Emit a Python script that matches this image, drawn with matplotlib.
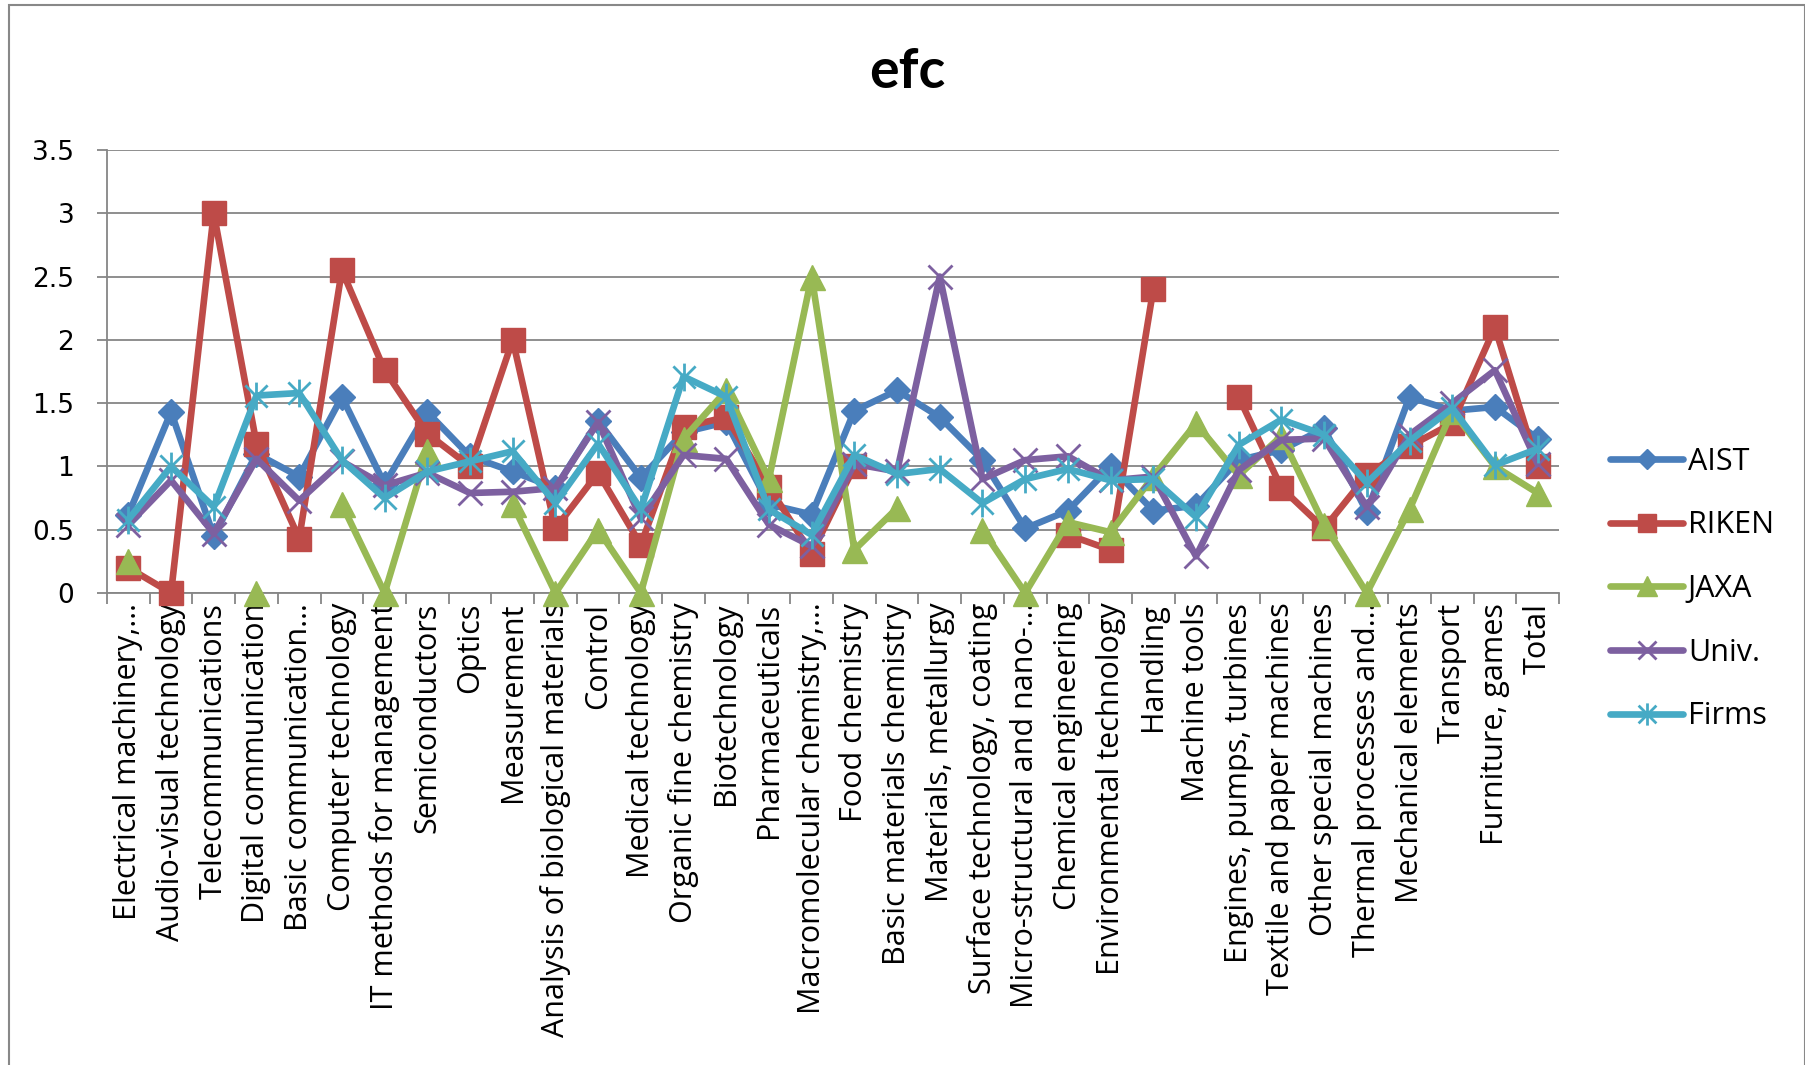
import numpy as np
import matplotlib
matplotlib.use("Agg")
import matplotlib.pyplot as plt
from matplotlib.path import Path
from matplotlib.patches import Rectangle

nan = np.nan

categories = [
    "Electrical machinery,…", "Audio-visual technology", "Telecommunications",
    "Digital communication", "Basic communication…", "Computer technology",
    "IT methods for management", "Semiconductors", "Optics", "Measurement",
    "Analysis of biological materials", "Control", "Medical technology",
    "Organic fine chemistry", "Biotechnology", "Pharmaceuticals",
    "Macromolecular chemistry,…", "Food chemistry", "Basic materials chemistry",
    "Materials, metallurgy", "Surface technology, coating",
    "Micro-structural and nano-…", "Chemical engineering",
    "Environmental technology", "Handling", "Machine tools",
    "Engines, pumps, turbines", "Textile and paper machines",
    "Other special machines", "Thermal processes and…", "Mechanical elements",
    "Transport", "Furniture, games", "Total",
]

aist = [0.62, 1.43, 0.45, 1.10, 0.92, 1.55, 0.86, 1.43, 1.08, 0.96, 0.83, 1.36,
        0.91, 1.27, 1.35, 0.70, 0.62, 1.44, 1.60, 1.39, 1.05, 0.51, 0.65, 1.00,
        0.65, 0.69, 1.05, 1.13, 1.30, 0.64, 1.55, 1.44, 1.47, 1.22]
riken = [0.20, 0.00, 3.00, 1.18, 0.43, 2.55, 1.76, 1.26, 1.00, 2.00, 0.51, 0.95,
         0.38, 1.31, 1.39, 0.84, 0.31, 1.00, nan, nan, nan, nan, 0.46, 0.34,
         2.40, nan, 1.55, 0.83, 0.51, 0.93, 1.16, 1.34, 2.10, 1.00]
jaxa = [0.25, nan, nan, 0.00, nan, 0.70, 0.00, 1.12, nan, 0.70, 0.00, 0.50,
        0.00, 1.22, 1.60, 0.90, 2.50, 0.34, 0.67, nan, 0.50, 0.00, 0.56, 0.48,
        0.92, 1.34, 0.93, 1.24, 0.54, 0.00, 0.66, 1.44, 1.00, 0.79]
univ = [0.54, 0.89, 0.47, 1.06, 0.73, 1.04, 0.85, 0.95, 0.79, 0.80, 0.83, 1.35,
        0.59, 1.09, 1.06, 0.54, 0.37, 1.02, 0.96, 2.50, 0.90, 1.05, 1.08, 0.89,
        0.92, 0.29, 0.97, 1.21, 1.22, 0.68, 1.25, 1.50, 1.76, 1.02]
firms = [0.58, 1.00, 0.68, 1.56, 1.58, 1.05, 0.75, 0.96, 1.04, 1.12, 0.71, 1.18,
         0.66, 1.71, 1.55, 0.66, 0.46, 1.09, 0.94, 0.98, 0.71, 0.90, 0.98, 0.89,
         0.90, 0.60, 1.17, 1.37, 1.25, 0.87, 1.20, 1.46, 1.01, 1.14]

series_names = ["AIST", "RIKEN", "JAXA", "Univ.", "Firms"]
y_ticks = [0, 0.5, 1, 1.5, 2, 2.5, 3, 3.5]
y_tick_labels = ["0", "0.5", "1", "1.5", "2", "2.5", "3", "3.5"]

# asterisk: vertical stroke plus two diagonals
asterisk = Path(
    [(0, -1), (0, 1), (-0.8, -0.8), (0.8, 0.8), (-0.8, 0.8), (0.8, -0.8)],
    [Path.MOVETO, Path.LINETO, Path.MOVETO, Path.LINETO, Path.MOVETO, Path.LINETO],
)

styles = [
    dict(color="#4A7EBB", marker="D", ms=13, mew=1),
    dict(color="#BE4B48", marker="s", ms=17, mew=1),
    dict(color="#98B954", marker="^", ms=18, mew=1),
    dict(color="#7D60A0", marker="x", ms=17, mew=2),
    dict(color="#46AAC5", marker=asterisk, ms=20, mew=2),
]

fig = plt.figure(figsize=(18.06, 10.65), dpi=100)
fig.patch.set_facecolor("white")

# outer chart-area frame
fig.add_artist(Rectangle((9 / 1806, -0.02), (1805 - 9) / 1806, 1.02 - 5 / 1065,
                         transform=fig.transFigure, fill=False,
                         edgecolor="#888888", linewidth=1.5))

ax = fig.add_axes([107 / 1806, 1 - 593 / 1065, (1559 - 107) / 1806, (593 - 150) / 1065])

x = np.arange(len(categories))
for name, vals, st in zip(series_names, [aist, riken, jaxa, univ, firms], styles):
    c = st["color"]
    ax.plot(x, vals, color=c, lw=4.8, marker=st["marker"], ms=st["ms"],
            mfc=c, mec=c, mew=st["mew"], label=name, clip_on=False,
            solid_joinstyle="round", solid_capstyle="round", zorder=3)

ax.set_xlim(-0.5, len(categories) - 0.5)
ax.set_ylim(0, 3.5)
ax.set_yticks(y_ticks)
ax.set_yticklabels(y_tick_labels, fontfamily="DejaVu Sans", fontsize=19)
ax.set_xticks(x)
ax.set_xticklabels(categories, rotation=90, fontfamily="Open Sans", fontsize=22,
                   ha="center", va="top")
ax.set_xticks(np.arange(-0.5, len(categories)), minor=True)
ax.tick_params(axis="x", which="major", length=0, pad=7)
ax.tick_params(axis="x", which="minor", length=8, width=1.3, color="#868686",
               direction="out")
ax.tick_params(axis="y", which="major", length=7.5, width=1.3, color="#868686",
               direction="out", pad=16)

ax.grid(axis="y", color="#868686", linewidth=1.3, zorder=0)
ax.set_axisbelow(True)
for side in ["top", "right"]:
    ax.spines[side].set_visible(False)
for side in ["left", "bottom"]:
    ax.spines[side].set_color("#868686")
    ax.spines[side].set_linewidth(1.3)

fig.text(907 / 1806, 1 - 72 / 1065, "efc", ha="center", va="center",
         fontfamily="Lato", fontweight="bold", fontsize=40)

leg = fig.legend(loc="center left", bbox_to_anchor=(1610 / 1806, 1 - 589 / 1065),
                 frameon=False, prop={"family": "Open Sans", "size": 22},
                 handlelength=2.4, handletextpad=0.15, labelspacing=1.1,
                 borderpad=0, borderaxespad=0, markerscale=0.8)

fig.savefig("out.png", dpi=100, facecolor="white")
